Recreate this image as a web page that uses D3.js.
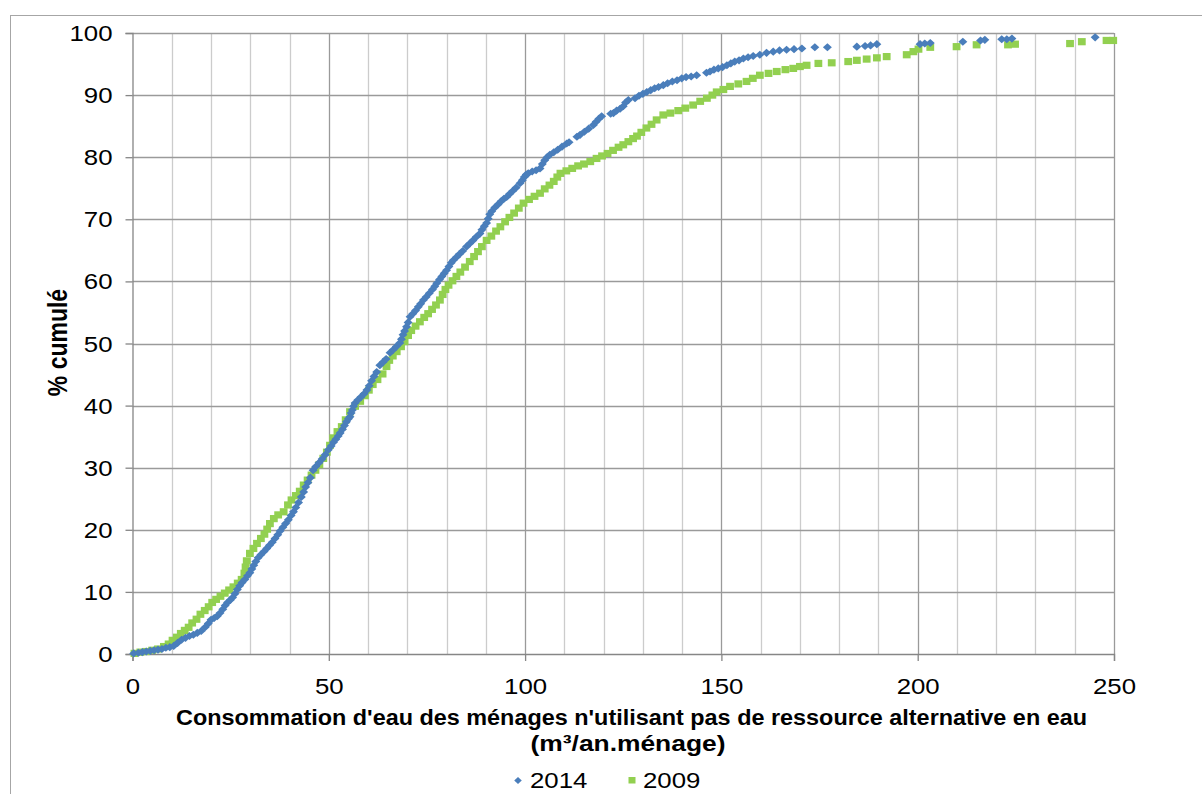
<!DOCTYPE html>
<html>
<head>
<meta charset="utf-8">
<script src="https://cdn.jsdelivr.net/npm/d3@7"></script>
<style>
  body { margin: 0; background: #fff; }
  text { font-family: "Liberation Sans", Arial, sans-serif; fill: #000; }
</style>
</head>
<body>
<div id="container"></div>
<script>
/* DATA */
const seriesNames = ["2014", "2009"];
const xTicks = [0, 50, 100, 150, 200, 250];
const yTicks = [0, 10, 20, 30, 40, 50, 60, 70, 80, 90, 100];

// 2014 : [consommation m3/an.ménage, % cumulé]
const data2014 = [
  [0.3,0.1],[1.5,0.2],[2.5,0.3],[3.5,0.4],[4.5,0.5],[5.5,0.6],[6.5,0.7],[7.5,0.8],[8.5,1.0],[9.5,1.1],
  [10.5,1.3],[11.5,1.8],[12.5,2.3],[13.5,2.6],[14.5,2.9],[15.5,3.1],[16.5,3.4],[17.5,3.7],[18.5,4.3],[19.3,4.9],
  [20,5.5],[20.8,5.8],[21.6,6.1],[22.3,6.6],[23,7.2],[23.6,7.8],[24.2,8.3],[24.9,8.7],[25.5,9.1],[26.1,9.7],
  [26.7,10.4],[27.3,11.0],[27.9,11.5],[28.6,12.0],[29.3,12.6],[29.9,13.1],[30.4,13.7],[30.9,14.3],[31.4,14.9],[32,15.5],
  [32.7,16.0],[33.5,16.5],[34.2,17.0],[34.9,17.5],[35.6,18.0],[36.3,18.6],[37,19.2],[37.6,19.8],[38.3,20.4],[39,21.0],
  [39.7,21.6],[40.4,22.3],[41,22.9],[41.6,23.6],[42.3,24.4],[43,25.3],[43.6,26.1],[44.1,26.9],[44.7,27.6],[45.3,28.4],
  [46,29.6],[46.7,30.2],[47.5,30.8],[48.3,31.4],[49.1,32.1],[49.9,32.9],[50.6,33.5],[51.2,34.1],[51.8,34.6],[52.4,35.1],
  [52.9,35.6],[53.5,36.2],[54,36.8],[54.5,37.4],[55,37.9],[55.4,38.2],[55.7,38.8],[56,39.3],[56.3,39.9],[56.7,40.4],
  [57.4,40.9],[58.2,41.4],[59,41.9],[59.7,42.5],[60.3,43.2],[60.9,44],[61.5,44.7],[62.2,45.4],[63,46.5],[63.8,47.0],
  [64.6,47.5],[65.6,48.5],[66.4,49],[67.2,49.5],[68.1,50.1],[68.5,50.7],[68.9,51.4],[69.3,52],[69.8,52.7],[70.2,53.4],
  [70.7,54.3],[71.4,54.8],[72.1,55.3],[72.8,55.9],[73.4,56.4],[74.1,57],[74.8,57.5],[75.6,58.1],[76.4,58.7],[77,59.2],
  [77.5,59.7],[78.2,60.3],[78.8,60.8],[79.4,61.3],[80,61.8],[80.6,62.4],[81.2,63],[81.7,63.4],[82.5,63.9],[83.3,64.4],
  [84.1,64.9],[85.1,65.6],[85.9,66.1],[86.7,66.6],[87.6,67.2],[88.5,67.7],[89,68.3],[89.6,68.9],[90.2,69.4],[90.6,70.1],
  [91,70.8],[91.5,71.3],[92.3,71.9],[93.1,72.4],[93.9,72.9],[94.6,73.3],[95.3,73.6],[96.1,74.1],[96.9,74.6],[97.7,75.1],
  [98.7,75.8],[99.3,76.3],[99.8,76.8],[100.3,77.2],[100.8,77.4],[101.8,77.7],[102.8,77.9],[103.8,78.2],[104.4,78.9],[105,79.5],
  [105.6,80],[106.3,80.4],[107.3,80.8],[108.3,81.2],[109.4,81.7],[110.6,82.2],[111.2,82.4],[113.2,83.3],[114,83.6],[115.1,84.1],
  [116.2,84.6],[117.4,85.2],[118.1,85.7],[118.8,86.2],[119.5,86.6],[121.8,87.0],[122.5,87.1],[123.3,87.5],[124.2,87.8],[125,88.2],
  [125.6,88.8],[126.3,89.2],[128,89.5],[129,89.9],[130,90.2],[131,90.5],[132,90.8],[133,91.1],[134,91.3],[135.2,91.6],
  [136.3,91.9],[137.5,92.2],[138.7,92.4],[139.9,92.7],[141,92.9],[142.3,93.0],[143.7,93.2],[146.2,93.6],[147.1,93.8],[148.1,94.1],
  [149.2,94.3],[150.3,94.5],[151.4,94.8],[152.4,95.1],[153.4,95.4],[154.5,95.6],[155.6,95.9],[156.8,96.1],[158.1,96.3],[159.8,96.5],
  [161.5,96.8],[163.2,97.0],[164.8,97.2],[166.6,97.3],[168.5,97.4],[170.5,97.5],[173.8,97.7],[177,97.7],[184.5,97.8],[186.6,97.9],
  [188,98.0],[189.6,98.2],[200.6,98.2],[201.8,98.3],[203.2,98.4],[211.5,98.6],[216,98.8],[217.1,98.9],[221.4,99.0],[222.7,99.0],
  [224,99.1],[245.2,99.3]
];

// 2009
const data2009 = [
  [0.5,0.1],[2,0.3],[3.5,0.4],[5,0.6],[6.5,0.8],[8,1.2],[9.2,1.6],[10.2,2.2],[11.3,2.7],[12.3,3.3],
  [13.3,3.8],[14.3,4.3],[15.2,5.0],[16.3,5.6],[17.3,6.4],[18.4,7.0],[19.4,7.6],[20.3,8.3],[21.3,8.8],[22.4,9.3],
  [23.5,9.8],[24.6,10.3],[25.7,10.8],[26.8,11.4],[27.8,12.0],[28.5,13.0],[28.8,14.0],[29.1,15.0],[29.9,16.2],[30.8,17.0],
  [31.7,17.8],[32.7,18.6],[33.6,19.3],[34.3,20.1],[35,21.0],[36,21.8],[37.1,22.4],[38.5,22.9],[39.6,24.0],[40.5,24.8],
  [41.6,25.5],[42.6,26.2],[43.6,27.2],[44.6,28.0],[45.6,28.8],[46.6,29.6],[47.6,30.5],[48.6,31.5],[49.5,32.5],[50.3,33.6],
  [51.1,34.8],[52.2,35.8],[53.3,36.6],[54.3,37.7],[55.4,39.0],[56.7,39.9],[58,40.7],[59.2,41.6],[60.2,42.5],[61.2,43.4],
  [62.4,44.2],[63.7,45.1],[64.7,46.3],[65.4,47.3],[66.3,48.0],[67.3,48.7],[68.4,49.5],[69.3,50.3],[70.2,51.3],[71,52.1],
  [72.1,52.8],[73.2,53.5],[74.3,54.2],[75.3,54.8],[76.3,55.5],[77.3,56.2],[78.3,57.0],[79,57.9],[79.7,58.7],[80.5,59.4],
  [81.5,60.1],[82.5,60.8],[83.5,61.5],[84.7,62.3],[85.9,63.2],[87,64.0],[88,64.8],[89,65.6],[90.2,66.6],[91.4,67.3],
  [92.6,68.1],[93.7,68.8],[94.9,69.6],[96,70.3],[97.2,71.0],[98.4,71.8],[99.6,72.6],[101,73.2],[102.4,73.7],[103.8,74.2],
  [105,74.9],[106.2,75.5],[107.3,76.1],[108.2,76.8],[109,77.4],[110.5,77.8],[112,78.2],[113.5,78.6],[115,78.9],[116.6,79.3],
  [118.2,79.8],[119.6,80.2],[121,80.6],[122.4,81.1],[123.8,81.6],[125,82.0],[126.3,82.5],[127.5,83.0],[128.5,83.4],[129.6,84.0],
  [130.9,84.7],[132.2,85.3],[133.5,86.0],[135.2,86.8],[137,87.1],[139,87.5],[140.8,87.9],[142.8,88.4],[144.6,89.0],[146.3,89.5],
  [147.7,90.0],[148.8,90.5],[150.5,90.9],[152.2,91.4],[154.3,91.8],[156.4,92.2],[158,92.7],[159.8,93.2],[162,93.5],[164.1,93.8],
  [166.3,94.1],[168.3,94.3],[170,94.6],[171.7,94.8],[174.7,95.1],[178.1,95.2],[182.3,95.4],[184.5,95.6],[187,95.8],[189.6,96.0],
  [192.1,96.2],[197.2,96.5],[198.9,97.0],[200.2,97.4],[203.2,97.7],[209.9,97.8],[215,98.1],[223,98.1],[224.8,98.2],[238.8,98.3],
  [241.8,98.6],[248.1,98.8],[249.8,98.8]
];

/* CONSTANTS */
const width = 1202, height = 794;
const margin = { top: 33, left: 132.5, right: 88, bottom: 140 };
const blue = "#4a7ebb", green = "#92d050";
const sx = 1.2; // text in the source image is stretched horizontally

const svg = d3.select("#container")
  .append("svg")
  .attr("width", width)
  .attr("height", height);

// outer frame
svg.append("rect")
  .attr("x", 10.5).attr("y", 15.5)
  .attr("width", 1200).attr("height", 820)
  .attr("fill", "none").attr("stroke", "#a6a6a6");

// SCALES
const xScale = d3.scaleLinear().domain([0, 250]).range([margin.left, width - margin.right]);
const yScale = d3.scaleLinear().domain([0, 100]).range([height - margin.bottom, margin.top]);

// GRIDLINES
const grid = svg.append("g");
grid.selectAll(".vminor")
  .data(d3.range(10, 251, 10).filter(d => d % 50 !== 0))
  .join("line")
  .attr("x1", d => Math.round(xScale(d)) + 0.5).attr("x2", d => Math.round(xScale(d)) + 0.5)
  .attr("y1", yScale(100)).attr("y2", yScale(0))
  .attr("stroke", "#cccccc").attr("stroke-width", 1.3);
grid.selectAll(".vmajor")
  .data(xTicks.slice(1))
  .join("line")
  .attr("x1", d => Math.round(xScale(d)) + 0.5).attr("x2", d => Math.round(xScale(d)) + 0.5)
  .attr("y1", yScale(100)).attr("y2", yScale(0))
  .attr("stroke", "#9a9a9a").attr("stroke-width", 1.3);
grid.selectAll(".hline")
  .data(yTicks.slice(1))
  .join("line")
  .attr("x1", xScale(0)).attr("x2", xScale(250))
  .attr("y1", d => Math.round(yScale(d)) + 0.5).attr("y2", d => Math.round(yScale(d)) + 0.5)
  .attr("stroke", "#9a9a9a").attr("stroke-width", 1.3);

// AXES
const yAxis = svg.append("g")
  .attr("transform", `translate(${xScale(0)},0)`)
  .call(d3.axisLeft(yScale).tickValues(yTicks).tickSize(7).tickPadding(0).tickFormat(d3.format("d")));
yAxis.select(".domain").attr("stroke", "#868686").attr("stroke-width", 1.3);
yAxis.selectAll(".tick line").attr("stroke", "#868686").attr("stroke-width", 1.3);
yAxis.selectAll(".tick text")
  .attr("x", 0).attr("dy", null).attr("y", 0)
  .attr("transform", `translate(-20,7.5) scale(${sx},1)`)
  .attr("font-size", 21.5).attr("font-family", "Liberation Sans, Arial, sans-serif");

const xAxis = svg.append("g")
  .attr("transform", `translate(0,${yScale(0)})`)
  .call(d3.axisBottom(xScale).tickValues(xTicks).tickSize(7).tickPadding(0).tickFormat(d3.format("d")));
xAxis.select(".domain").attr("stroke", "#868686").attr("stroke-width", 1.3);
xAxis.selectAll(".tick line").attr("stroke", "#868686").attr("stroke-width", 1.3);
xAxis.selectAll(".tick text")
  .attr("y", 0).attr("dy", null)
  .attr("transform", `translate(0,40) scale(${sx},1)`)
  .attr("font-size", 21.5).attr("font-family", "Liberation Sans, Arial, sans-serif");

// SERIES
const diamond = d3.symbol().type(d3.symbolDiamond2).size(42);

svg.append("g").selectAll(".p2009")
  .data(data2009)
  .join("rect")
  .attr("x", d => xScale(d[0]) - 3.9)
  .attr("y", d => yScale(d[1]) - 3.6)
  .attr("width", 7.8).attr("height", 7.2)
  .attr("fill", green);

svg.append("g").selectAll(".p2014")
  .data(data2014)
  .join("path")
  .attr("d", diamond)
  .attr("transform", d => `translate(${xScale(d[0])},${yScale(d[1])}) scale(1.1,1)`)
  .attr("fill", blue);

// AXIS TITLES
svg.append("text")
  .attr("transform", `translate(66.5,342.5) rotate(-90) scale(1,${sx})`)
  .attr("text-anchor", "middle")
  .attr("font-size", 23).attr("font-weight", "bold")
  .text("% cumulé");

svg.append("text")
  .attr("x", 631.5).attr("y", 725)
  .attr("text-anchor", "middle")
  .attr("font-size", 22).attr("font-weight", "bold")
  .attr("textLength", 911).attr("lengthAdjust", "spacingAndGlyphs")
  .text("Consommation d'eau des ménages n'utilisant pas de ressource alternative en eau");

svg.append("text")
  .attr("transform", `translate(628,751) scale(${sx},1)`)
  .attr("text-anchor", "middle")
  .attr("font-size", 22).attr("font-weight", "bold")
  .text("(m³/an.ménage)");

// LEGEND
const legend = svg.append("g");
legend.append("path")
  .attr("d", d3.symbol().type(d3.symbolDiamond2).size(30))
  .attr("transform", "translate(518,780.5) scale(1.1,1)")
  .attr("fill", blue);
legend.append("text")
  .attr("transform", `translate(530,788) scale(${sx},1)`)
  .attr("font-size", 21.5)
  .text(seriesNames[0]);
legend.append("rect")
  .attr("x", 628.5).attr("y", 777).attr("width", 7).attr("height", 6.5)
  .attr("fill", green);
legend.append("text")
  .attr("transform", `translate(643,788) scale(${sx},1)`)
  .attr("font-size", 21.5)
  .text(seriesNames[1]);
</script>
</body>
</html>
